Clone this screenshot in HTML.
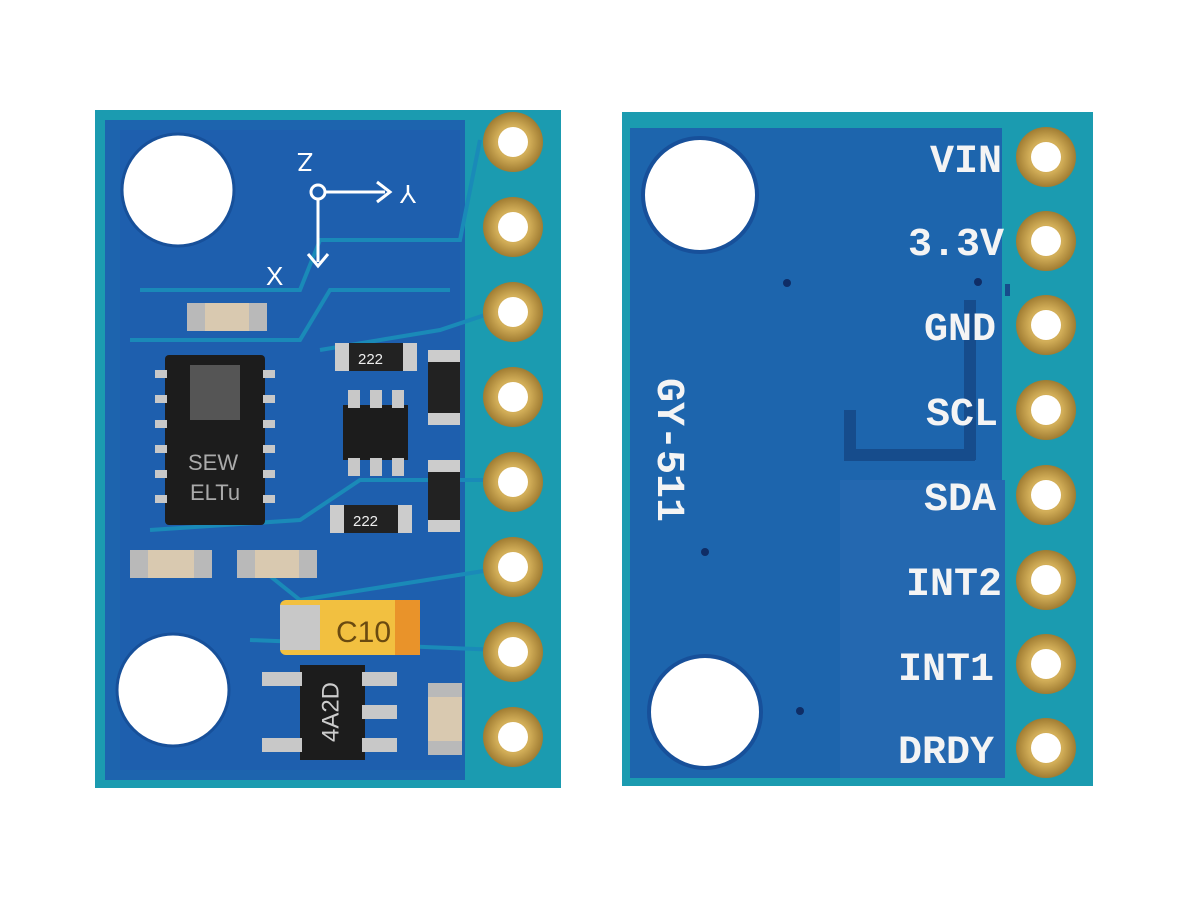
<!DOCTYPE html>
<html><head><style>
body{margin:0;background:#fff;width:1192px;height:900px;overflow:hidden}
svg{display:block}
.lbl{font-family:"Liberation Mono",monospace;font-weight:bold;fill:#f4f4f4;font-size:40px}
</style></head><body>
<svg width="1192" height="900" viewBox="0 0 1192 900">
<defs>
<radialGradient id="gold" cx="50%" cy="50%" r="50%">
<stop offset="55%" stop-color="#d2ae58"/><stop offset="100%" stop-color="#a07c32"/>
</radialGradient>
</defs>
<!-- left board -->
<rect x="95" y="110" width="466" height="678" fill="#1b9bb0"/>
<rect x="105" y="120" width="360" height="660" fill="#1d64ae"/>
<rect x="120" y="130" width="340" height="640" fill="#1e5fae"/>
<path d="M140 290 L300 290 L320 240 L460 240 L480 140 M130 340 L300 340 L330 290 L450 290 M320 350 L440 330 L500 310 M150 530 L300 520 L360 480 L500 480 M250 560 L300 600 L490 570 M250 640 L500 650" stroke="#1a8ab8" stroke-width="4" fill="none"/>
<circle cx="178" cy="190" r="56" fill="#fff" stroke="#17509a" stroke-width="3"/>
<circle cx="173" cy="690" r="56" fill="#fff" stroke="#17509a" stroke-width="3"/>
<!-- axes -->
<circle cx="318" cy="192" r="7" fill="none" stroke="#fff" stroke-width="3"/>
<path d="M325 192 H385 M318 199 V262 M308 254 L318 266 L328 254 M377 182 L390 192 L377 202" stroke="#fff" stroke-width="3" fill="none"/>
<text x="305" y="160" text-anchor="middle" dominant-baseline="middle" fill="#fff" font-family="Liberation Sans" font-size="26" transform="rotate(180 305 160)">Z</text>
<text x="408" y="192" text-anchor="middle" dominant-baseline="middle" fill="#fff" font-family="Liberation Sans" font-size="26" transform="rotate(180 408 192)">Y</text>
<text x="266" y="285" fill="#fff" font-family="Liberation Sans" font-size="26">X</text>
<!-- chips -->
<rect x="165" y="355" width="100" height="170" rx="4" fill="#1c1c1c"/>
<g fill="#c8c8c8"><rect x="155" y="370" width="12" height="8"/><rect x="155" y="395" width="12" height="8"/><rect x="155" y="420" width="12" height="8"/><rect x="155" y="445" width="12" height="8"/><rect x="155" y="470" width="12" height="8"/><rect x="155" y="495" width="12" height="8"/>
<rect x="263" y="370" width="12" height="8"/><rect x="263" y="395" width="12" height="8"/><rect x="263" y="420" width="12" height="8"/><rect x="263" y="445" width="12" height="8"/><rect x="263" y="470" width="12" height="8"/><rect x="263" y="495" width="12" height="8"/></g>
<rect x="190" y="365" width="50" height="55" fill="#555"/>
<text x="188" y="470" fill="#aaa" font-family="Liberation Sans" font-size="22">SEW</text>
<text x="190" y="500" fill="#aaa" font-family="Liberation Sans" font-size="22">ELTu</text>
<rect x="343" y="405" width="65" height="55" fill="#1c1c1c"/>
<g fill="#c8c8c8"><rect x="348" y="390" width="12" height="18"/><rect x="370" y="390" width="12" height="18"/><rect x="392" y="390" width="12" height="18"/><rect x="348" y="458" width="12" height="18"/><rect x="370" y="458" width="12" height="18"/><rect x="392" y="458" width="12" height="18"/></g>
<!-- passives -->
<g fill="#222"><rect x="335" y="343" width="82" height="28" rx="4"/><rect x="330" y="505" width="82" height="28" rx="4"/><rect x="428" y="350" width="32" height="75" rx="4"/><rect x="428" y="460" width="32" height="72" rx="4"/></g>
<g fill="#ccc"><rect x="335" y="343" width="14" height="28"/><rect x="403" y="343" width="14" height="28"/><rect x="330" y="505" width="14" height="28"/><rect x="398" y="505" width="14" height="28"/><rect x="428" y="350" width="32" height="12"/><rect x="428" y="413" width="32" height="12"/><rect x="428" y="460" width="32" height="12"/><rect x="428" y="520" width="32" height="12"/></g>
<text x="358" y="364" fill="#eee" font-family="Liberation Sans" font-size="15">222</text>
<text x="353" y="526" fill="#eee" font-family="Liberation Sans" font-size="15">222</text>
<g fill="#d9c9b0"><rect x="187" y="303" width="80" height="28" rx="4"/><rect x="130" y="550" width="82" height="28" rx="4"/><rect x="237" y="550" width="80" height="28" rx="4"/><rect x="428" y="683" width="34" height="72" rx="4"/></g>
<g fill="#b9b9b9"><rect x="187" y="303" width="18" height="28"/><rect x="249" y="303" width="18" height="28"/><rect x="130" y="550" width="18" height="28"/><rect x="194" y="550" width="18" height="28"/><rect x="237" y="550" width="18" height="28"/><rect x="299" y="550" width="18" height="28"/><rect x="428" y="683" width="34" height="14"/><rect x="428" y="741" width="34" height="14"/></g>
<rect x="280" y="600" width="140" height="55" rx="6" fill="#f2c040"/>
<rect x="395" y="600" width="25" height="55" fill="#e9932a"/>
<rect x="280" y="605" width="40" height="45" fill="#c8c8c8"/>
<text x="336" y="642" fill="#6a4a10" font-family="Liberation Sans" font-size="30">C10</text>
<rect x="300" y="665" width="65" height="95" fill="#1c1c1c"/>
<g fill="#c8c8c8"><rect x="262" y="672" width="40" height="14"/><rect x="262" y="738" width="40" height="14"/><rect x="362" y="672" width="35" height="14"/><rect x="362" y="705" width="35" height="14"/><rect x="362" y="738" width="35" height="14"/></g>
<text x="332" y="712" text-anchor="middle" dominant-baseline="middle" fill="#ccc" font-family="Liberation Sans" font-size="24" transform="rotate(-90 332 712)">4A2D</text>
<!-- left pads -->
<g fill="url(#gold)"><circle cx="513" cy="142" r="30"/><circle cx="513" cy="227" r="30"/><circle cx="513" cy="312" r="30"/><circle cx="513" cy="397" r="30"/><circle cx="513" cy="482" r="30"/><circle cx="513" cy="567" r="30"/><circle cx="513" cy="652" r="30"/><circle cx="513" cy="737" r="30"/></g>
<g fill="#fff"><circle cx="513" cy="142" r="15"/><circle cx="513" cy="227" r="15"/><circle cx="513" cy="312" r="15"/><circle cx="513" cy="397" r="15"/><circle cx="513" cy="482" r="15"/><circle cx="513" cy="567" r="15"/><circle cx="513" cy="652" r="15"/><circle cx="513" cy="737" r="15"/></g>

<!-- right board -->
<rect x="622" y="112" width="471" height="674" fill="#1b9bb0"/>
<rect x="630" y="128" width="372" height="650" fill="#1d65ad"/>
<rect x="840" y="480" width="165" height="298" fill="#2468b0"/>
<path d="M970 300 V460 M850 410 V455 H975 M1005 290 H1010" stroke="#164c8c" stroke-width="12" fill="none"/>
<circle cx="700" cy="195" r="57" fill="#fff" stroke="#17509a" stroke-width="4"/>
<circle cx="705" cy="712" r="56" fill="#fff" stroke="#17509a" stroke-width="4"/>
<g fill="#0f2d66"><circle cx="787" cy="283" r="4"/><circle cx="978" cy="282" r="4"/><circle cx="705" cy="552" r="4"/><circle cx="800" cy="711" r="4"/></g>
<g class="lbl" text-anchor="end">
<text x="1002" y="172">VIN</text>
<text x="1004" y="255">3.3V</text>
<text x="996" y="340">GND</text>
<text x="998" y="425">SCL</text>
<text x="996" y="510">SDA</text>
<text x="1002" y="595">INT2</text>
<text x="994" y="680">INT1</text>
<text x="994" y="763">DRDY</text>
</g>
<text class="lbl" x="0" y="0" transform="translate(658 378) rotate(90)" font-size="36">GY-511</text>
<g fill="url(#gold)"><circle cx="1046" cy="157" r="30"/><circle cx="1046" cy="241" r="30"/><circle cx="1046" cy="325" r="30"/><circle cx="1046" cy="410" r="30"/><circle cx="1046" cy="495" r="30"/><circle cx="1046" cy="580" r="30"/><circle cx="1046" cy="664" r="30"/><circle cx="1046" cy="748" r="30"/></g>
<g fill="#fff"><circle cx="1046" cy="157" r="15"/><circle cx="1046" cy="241" r="15"/><circle cx="1046" cy="325" r="15"/><circle cx="1046" cy="410" r="15"/><circle cx="1046" cy="495" r="15"/><circle cx="1046" cy="580" r="15"/><circle cx="1046" cy="664" r="15"/><circle cx="1046" cy="748" r="15"/></g>
</svg>
</body></html>
